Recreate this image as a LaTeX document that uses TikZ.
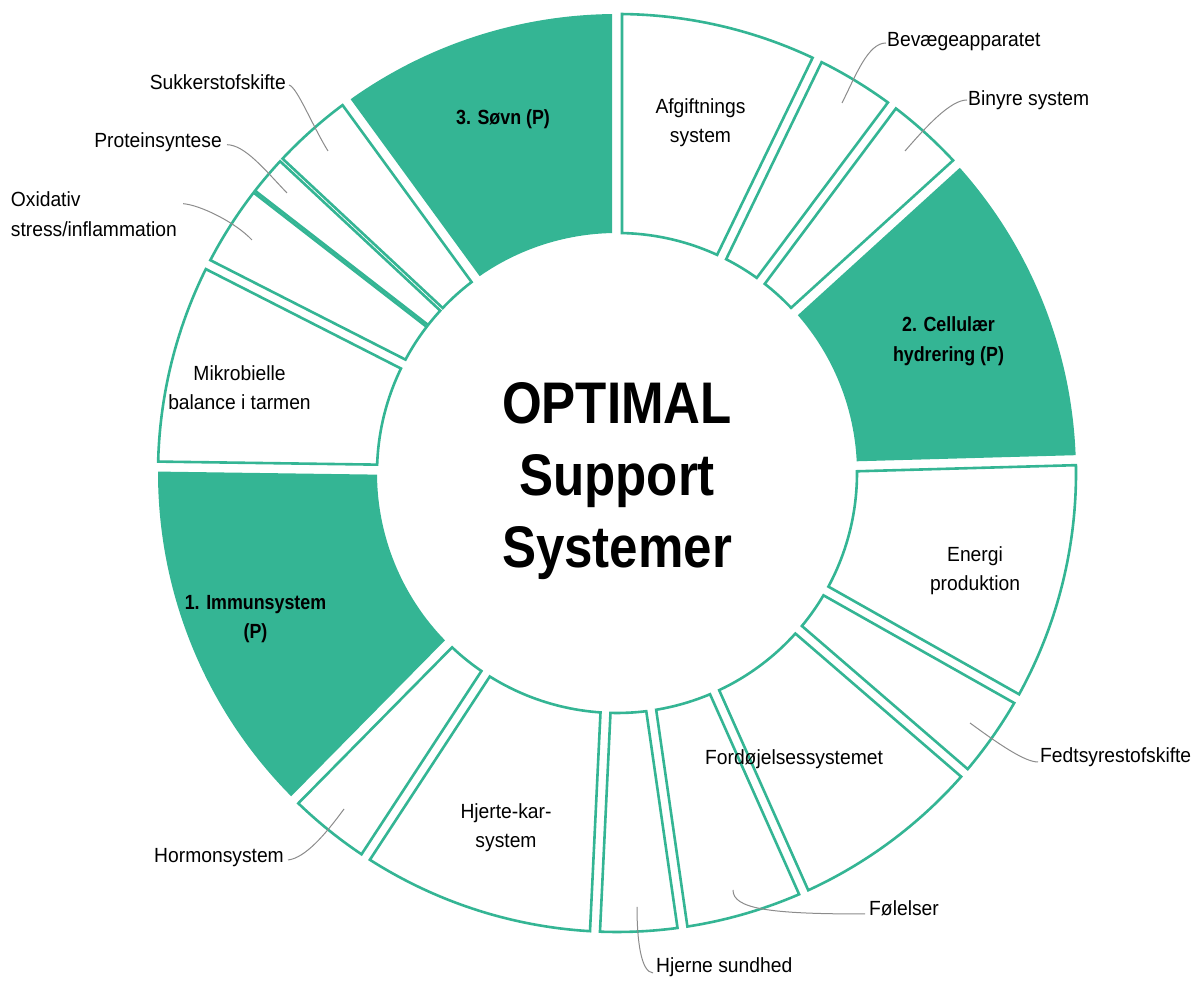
\documentclass[tikz,border=0pt]{standalone}
\usepackage{fontspec}
\setmainfont{Liberation Sans}[FakeStretch=0.94]
\newfontfamily\boldcond{Liberation Sans}[FakeStretch=0.87]
\definecolor{grn}{HTML}{34B594}
\definecolor{leadgray}{HTML}{8C8C8C}
\tikzset{
  whiteseg/.style={draw=grn, line width=2.6pt, fill=white, line join=miter},
  greenseg/.style={fill=grn},
  lbl/.style={font={\fontsize{20.5}{29.5}\selectfont}, inner sep=0pt, align=center, text=black},
  blbl/.style={font={\boldcond\bfseries\fontsize{20.5}{29.5}\selectfont}, inner sep=0pt, align=center, text=black},
  titletext/.style={font={\boldcond\bfseries\fontsize{58.7}{72}\selectfont}, inner sep=0pt, align=center, text=black},
  leader/.style={draw=leadgray, line width=1pt},
}
\def\Ro{459}
\def\Ri{240}
% #1 low angle, #2 high angle, #3 half gap at low edge, #4 half gap at high edge, #5 style
\newcommand\donutseg[5]{%
  \path[#5] ({#1+asin(#3/\Ri)}:\Ri) -- ({#1+asin(#3/\Ro)}:\Ro)
    arc[start angle={#1+asin(#3/\Ro)}, end angle={#2-asin(#4/\Ro)}, radius=\Ro]
    -- ({#2-asin(#4/\Ri)}:\Ri)
    arc[start angle={#2-asin(#4/\Ri)}, end angle={#1+asin(#3/\Ri)}, radius=\Ri] -- cycle;}
\begin{document}
\begin{tikzpicture}[x=1pt,y=1pt]
\useasboundingbox (0,0) rectangle (1199,981);
\begin{scope}[shift={(617,508)}]
  \donutseg{64.15}{90}{5}{5}{whiteseg}
  \donutseg{53.2}{64.15}{5}{5}{whiteseg}
  \donutseg{42.3}{53.2}{5}{5}{whiteseg}
  \donutseg{1.6}{42.3}{5}{5}{greenseg}
  \donutseg{-29.45}{1.6}{5}{5}{whiteseg}
  \donutseg{-40.8}{-29.45}{5}{5}{whiteseg}
  \donutseg{-66}{-40.8}{5}{5}{whiteseg}
  \donutseg{-81.8}{-66}{5}{5}{whiteseg}
  \donutseg{-92.75}{-81.8}{5}{5}{whiteseg}
  \donutseg{-123.2}{-92.75}{5}{5}{whiteseg}
  \donutseg{-134.6}{-123.2}{5}{5}{whiteseg}
  \donutseg{179.2}{225.4}{5}{5}{greenseg}
  \donutseg{153}{179.2}{5}{5}{whiteseg}
  \donutseg{142.2}{153}{1.2}{5}{whiteseg}
  \donutseg{137}{142.2}{1.8}{1.2}{whiteseg}
  \donutseg{126.1}{137}{5}{1.8}{whiteseg}
  \donutseg{90}{126.1}{5}{5}{greenseg}
\end{scope}

% labels inside segments
\node[lbl, anchor=north] (afg) at (700.5,883) {Afgiftnings\\system};
\node[blbl, anchor=north] (cel) at (948.5,664.3) {2. Cellulær\\hydrering (P)};
\node[lbl, anchor=north] (ene) at (975,435) {Energi\\produktion};
\node[lbl, anchor=base] (for) at (794,216) {Fordøjelsessystemet};
\node[lbl, anchor=north] (hjk) at (506,178) {Hjerte-kar-\\system};
\node[blbl, anchor=north] (imm) at (255.5,386) {1. Immunsystem\\(P)};
\node[lbl, anchor=north] (mik) at (239.5,616) {Mikrobielle\\balance i tarmen};
\node[blbl, anchor=base] (sovn) at (503,856) {3. Søvn (P)};
\node[titletext, anchor=north] (title) at (617,599) {OPTIMAL\\Support\\Systemer};

% outside labels
\node[lbl, anchor=base west] (bev) at (887,934) {Bevægeapparatet};
\node[lbl, anchor=base west] (bin) at (968,875) {Binyre system};
\node[lbl, anchor=base east] (suk) at (286,891) {Sukkerstofskifte};
\node[lbl, anchor=base east] (pro) at (222,833.3) {Proteinsyntese};
\node[lbl, anchor=north west, align=left] (oxi) at (10.7,789.3) {Oxidativ\\stress/inflammation};
\node[lbl, anchor=base east] (hor) at (284,118) {Hormonsystem};
\node[lbl, anchor=base west] (fed) at (1040,218) {Fedtsyrestofskifte};
\node[lbl, anchor=base west] (fol) at (869,65) {Følelser};
\node[lbl, anchor=base west] (hjn) at (656,8) {Hjerne sundhed};

% leader end points
\coordinate (bevp) at (842,878);
\coordinate (binp) at (905,830);
\coordinate (sukp) at (328,830);
\coordinate (prop) at (287,788);
\coordinate (oxip) at (252,741);
\coordinate (horp) at (344,172);
\coordinate (fedp) at (970,258);
\coordinate (folp) at (733,91);
\coordinate (hjnp) at (637,74);

\draw[leader] ([xshift=-1pt,yshift=4pt]bev.base west) .. controls (868,938) and (856,906) .. (bevp);
\draw[leader] ([xshift=-1pt,yshift=6pt]bin.base west) .. controls (950,881) and (925,853) .. (binp);
\draw[leader] ([xshift=3pt,yshift=5pt]suk.base east) .. controls (297,894) and (312,856) .. (sukp);
\draw[leader] ([xshift=5pt,yshift=3pt]pro.base east) .. controls (245,836) and (265,811) .. (prop);
\draw[leader] ([xshift=6pt,yshift=-12pt]oxi.north east) .. controls (200,776) and (235,759) .. (oxip);
\draw[leader] ([xshift=4pt,yshift=3pt]hor.base east) .. controls (305,123) and (325,146) .. (horp);
\draw[leader] ([xshift=-2pt,yshift=1pt]fed.base west) .. controls (1025,219) and (1000,236) .. (fedp);
\draw[leader] ([xshift=-4pt,yshift=2pt]fol.base west) .. controls (770,67) and (733,72) .. (folp);
\draw[leader] ([xshift=-3pt]hjn.base west) .. controls (641,9) and (637,40) .. (hjnp);
\end{tikzpicture}
\end{document}
